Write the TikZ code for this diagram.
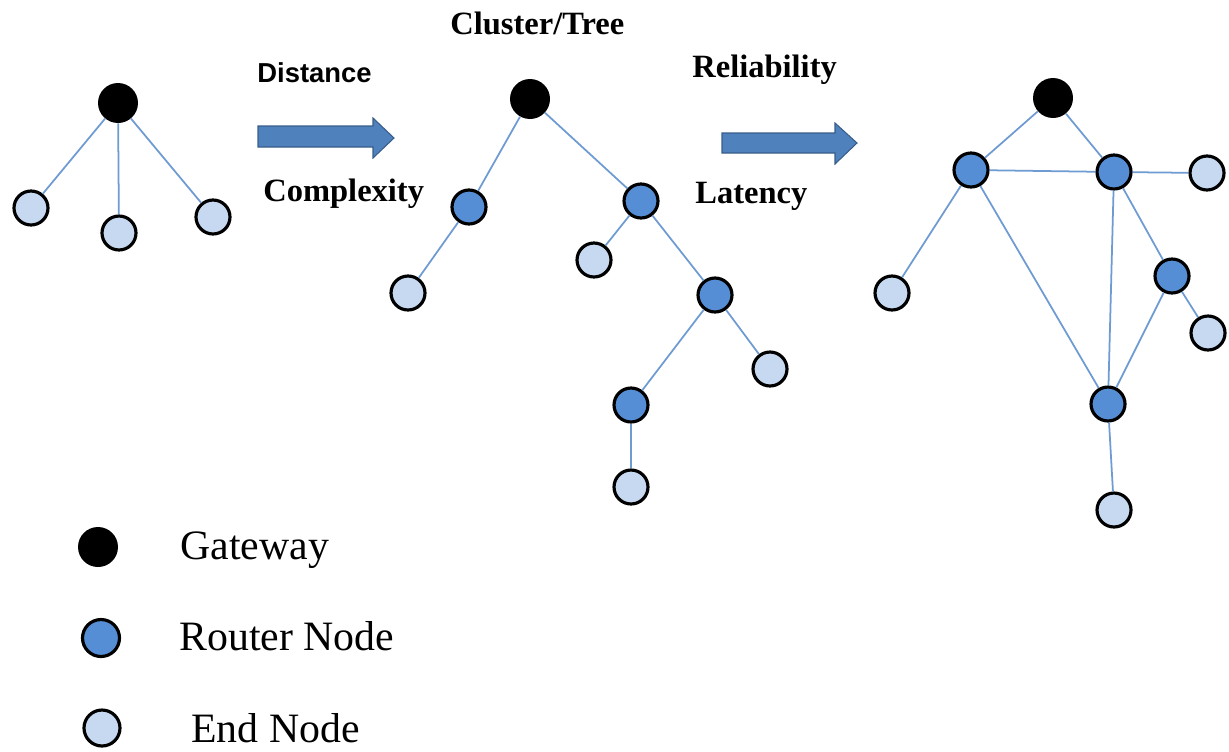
\documentclass[tikz,border=0pt]{standalone}
\usepackage{fontspec}
\setmainfont{Liberation Serif}
\newfontfamily\arialfont{Liberation Sans}
\usepackage{xcolor}
\usetikzlibrary{positioning,calc}

\definecolor{routerblue}{HTML}{558ED5}
\definecolor{endblue}{HTML}{C6D9F1}
\definecolor{linkblue}{HTML}{6F9BD3}
\definecolor{arrowblue}{HTML}{4F81BD}
\definecolor{arrowedge}{HTML}{385D8A}

\tikzset{
    gateway/.style={circle, fill=black, minimum size=0.8cm, inner sep=0pt},
    router/.style={circle, draw=black, line width=1.8pt, fill=routerblue, minimum size=0.68cm, inner sep=0pt},
    endnode/.style={circle, draw=black, line width=1.8pt, fill=endblue, minimum size=0.68cm, inner sep=0pt},
    link/.style={draw=linkblue, line width=1pt},
    blockarrow/.style={fill=arrowblue, draw=arrowedge, line width=0.6pt},
    lbl/.style={anchor=base west, inner sep=0pt, font=\fontsize{18.5}{20}\selectfont\bfseries},
    legend/.style={anchor=base west, inner sep=0pt, font=\fontsize{23.8}{26}\selectfont},
}

\begin{document}
\begin{tikzpicture}[x=0.02cm, y=-0.02cm]
    \useasboundingbox (0,0) rectangle (1229,751);

    % Star
    \node[gateway] (sg) at (118,103) {};
    \node[endnode] (se1) at (31,208) {};
    \node[endnode] (se2) at (119,233) {};
    \node[endnode] (se3) at (213,217) {};
    \foreach \e in {se1,se2,se3} \draw[link] (sg) -- (\e);

    % Arrow 1
    \fill[blockarrow] (258,126) -- (373,126) -- (373,118) -- (394,138) -- (373,158) -- (373,147) -- (258,147) -- cycle;
    \node[lbl, font=\fontsize{15.6}{18}\selectfont\bfseries\arialfont] (dist) at (257,82) {Distance};
    \node[lbl] (compl) at (263,201) {Complexity};

    % Cluster/Tree
    \node[lbl] (cttitle) at (450,34) {Cluster/Tree};
    \node[gateway] (tg) at (530,99) {};
    \node[router] (tr1) at (469,207) {};
    \node[router] (tr2) at (641,201) {};
    \node[endnode] (te1) at (408,293) {};
    \node[endnode] (te2) at (594,260) {};
    \node[router] (tr3) at (715,295) {};
    \node[endnode] (te3) at (770,369) {};
    \node[router] (tr4) at (631,405) {};
    \node[endnode] (te4) at (631,487) {};
    \foreach \a/\b in {tg/tr1,tg/tr2,tr1/te1,tr2/te2,tr2/tr3,tr3/te3,tr3/tr4,tr4/te4}
        \draw[link] (\a) -- (\b);

    % Arrow 2
    \fill[blockarrow] (722,133) -- (835,133) -- (835,123) -- (857,143) -- (835,164) -- (835,153) -- (722,153) -- cycle;
    \node[lbl] (relia) at (692,77) {Reliability};
    \node[lbl] (laten) at (695,203) {Latency};

    % Mesh
    \node[gateway] (mg) at (1053,98) {};
    \node[router] (mr1) at (971,170) {};
    \node[router] (mr2) at (1114,172) {};
    \node[endnode] (me1) at (1207,173) {};
    \node[endnode] (me2) at (892,293) {};
    \node[router] (mr3) at (1172,276) {};
    \node[endnode] (me3) at (1208,333) {};
    \node[router] (mr4) at (1108,404) {};
    \node[endnode] (me4) at (1114,510) {};
    \foreach \a/\b in {mg/mr1,mg/mr2,mr1/mr2,mr2/me1,mr1/me2,mr1/mr4,mr2/mr4,mr2/mr3,mr3/me3,mr3/mr4,mr4/me4}
        \draw[link] (\a) -- (\b);

    % Legend
    \node[gateway] (lg) at (98,547) {};
    \node[router, minimum size=0.74cm] (lr) at (101,638) {};
    \node[endnode, minimum size=0.72cm] (le) at (102,728) {};
    \node[legend] (lgt) at (180,559) {Gateway};
    \node[legend] (lrt) at (179,650) {Router Node};
    \node[legend] (let) at (191,742) {End Node};
\end{tikzpicture}
\end{document}
